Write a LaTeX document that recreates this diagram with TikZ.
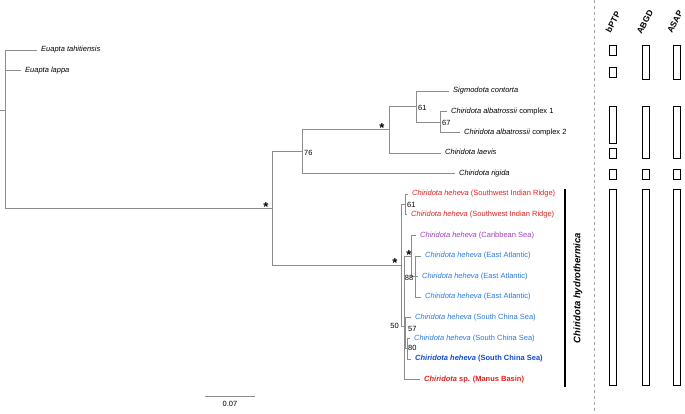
\documentclass[tikz,border=0pt]{standalone}
\usepackage{fontspec}
\setmainfont{Liberation Sans}
\usepackage{tikz}

\definecolor{branchgray}{RGB}{140,140,140}
\definecolor{swirred}{RGB}{230,30,30}
\definecolor{caribpurple}{RGB}{160,60,190}
\definecolor{heblue}{RGB}{40,120,230}
\definecolor{scsblue}{RGB}{15,75,205}
\newcommand{\taxon}[1]{\textit{#1}}

\tikzset{
    branch/.style={draw=branchgray, line width=0.9pt, to path={|- (\tikztotarget)}},
    leaf/.style={anchor=west, inner xsep=4pt, inner ysep=0pt, text height=5pt, text depth=1.5pt, font=\fontsize{7.5}{8}\selectfont},
    support/.style={inner sep=0pt, font=\fontsize{7.5}{8}\selectfont},
    star/.style={anchor=base, inner sep=0pt, font=\fontsize{13}{13}\selectfont\bfseries},
    spbox/.style={draw=black, line width=1pt},
    method/.style={rotate=62, inner sep=0pt, font=\fontsize{8.5}{9}\selectfont\bfseries},
}

\begin{document}
\begin{tikzpicture}[x=1pt, y=-1pt]
    \useasboundingbox (0,0) rectangle (685,413);

    % outgroup and root
    \coordinate (rootstub) at (0,110);
    \coordinate (root)     at (5,110);
    \node[leaf] (tahi)  at (37,50)   {\taxon{Euapta tahitiensis}};
    \node[leaf] (lappa) at (21,70.6) {\taxon{Euapta lappa}};

    % upper clade
    \coordinate (ingroup) at (272,208.4);
    \coordinate (n76)     at (302,151.7);
    \coordinate (nstar)   at (389,129.8);
    \coordinate (n61)     at (416,106.7);
    \coordinate (n67)     at (440,122.1);
    \node[leaf] (sigmo)  at (449,91.2)  {\taxon{Sigmodota contorta}};
    \node[leaf] (alba1)  at (447,111.8) {\taxon{Chiridota albatrossii} complex 1};
    \node[leaf] (alba2)  at (460,132.4) {\taxon{Chiridota albatrossii} complex 2};
    \node[leaf] (laevis) at (441,153)   {\taxon{Chiridota laevis}};
    \node[leaf] (rigida) at (455,173.6) {\taxon{Chiridota rigida}};

    % hydrothermica clade
    \coordinate (hydro) at (401,265);
    \coordinate (swir)  at (405,204.5);
    \coordinate (n50)   at (404,326);
    \coordinate (atl)   at (411,256);
    \coordinate (ea)    at (415,276.6);
    \coordinate (scs)   at (405.5,333.2);
    \coordinate (n80)   at (407,348.7);
    \node[leaf, text=swirred]     (swir1) at (408,194.2) {\taxon{Chiridota heheva} (Southwest Indian Ridge)};
    \node[leaf, text=swirred]     (swir2) at (407,214.8) {\taxon{Chiridota heheva} (Southwest Indian Ridge)};
    \node[leaf, text=caribpurple] (carib) at (416,235.4) {\taxon{Chiridota heheva} (Caribbean Sea)};
    \node[leaf, text=heblue]      (ea1)   at (421,256)   {\taxon{Chiridota heheva} (East Atlantic)};
    \node[leaf, text=heblue]      (ea2)   at (418,276.6) {\taxon{Chiridota heheva} (East Atlantic)};
    \node[leaf, text=heblue]      (ea3)   at (421,297.2) {\taxon{Chiridota heheva} (East Atlantic)};
    \node[leaf, text=heblue]      (scs1)  at (411,317.8) {\taxon{Chiridota heheva} (South China Sea)};
    \node[leaf, text=heblue]      (scs2)  at (410,338.4) {\taxon{Chiridota heheva} (South China Sea)};
    \node[leaf, text=scsblue, font=\fontsize{7.5}{8}\selectfont\bfseries] (scs3) at (411,359) {\taxon{Chiridota heheva} (South China Sea)};
    \node[leaf, text=swirred, font=\fontsize{7.5}{8}\selectfont\bfseries] (manus) at (420,379.6) {\taxon{Chiridota} sp. (Manus Basin)};

    \path
        (rootstub)
            edge [branch] (root)
        (root)
            edge [branch] (tahi)
            edge [branch] (lappa)
            edge [branch] (ingroup)
        (ingroup)
            edge [branch] (n76)
            edge [branch] (hydro)
        (n76)
            edge [branch] (nstar)
            edge [branch] (rigida)
        (nstar)
            edge [branch] (n61)
            edge [branch] (laevis)
        (n61)
            edge [branch] (sigmo)
            edge [branch] (n67)
        (n67)
            edge [branch] (alba1)
            edge [branch] (alba2)
        (hydro)
            edge [branch] (swir)
            edge [branch] (n50)
        (swir)
            edge [branch] (swir1)
            edge [branch] (swir2)
        (n50)
            edge [branch] (atl)
            edge [branch] (scs)
            edge [branch] (manus)
        (atl)
            edge [branch] (carib)
            edge [branch] (ea)
        (ea)
            edge [branch] (ea1)
            edge [branch] (ea2)
            edge [branch] (ea3)
        (scs)
            edge [branch] (scs1)
            edge [branch] (n80)
        (n80)
            edge [branch] (scs2)
            edge [branch] (scs3)
        ;

    % support values
    \node[support, anchor=west] (bs76)  at (304,152.5) {76};
    \node[support, anchor=west] (bs61)  at (418,107.5) {61};
    \node[support, anchor=west] (bs67)  at (442,122.5) {67};
    \node[support, anchor=west] (bs61b) at (407,205)   {61};
    \node[support]              (bs88)  at (409,278)   {88};
    \node[support, anchor=east] (bs50)  at (399,326)   {50};
    \node[support, anchor=west] (bs57)  at (408,329)   {57};
    \node[support, anchor=west] (bs80)  at (408,348)   {80};
    \node[star] (st1) at (266,211.5) {*};
    \node[star] (st2) at (382,132.5) {*};
    \node[star] (st3) at (395,267.5) {*};
    \node[star] (st4) at (409,259.5) {*};

    % scale bar
    \draw[branchgray, line width=1pt] (205,396) -- (255,396);
    \node[support] (scale) at (230,404) {0.07};

    % species bar
    \draw[line width=2pt] (565,189) -- (565,387);
    \node[rotate=90, font=\fontsize{9.5}{10}\selectfont\bfseries\itshape] (hydrolabel) at (578,288) {Chiridota hydrothermica};

    % delimitation columns
    \draw[gray!70, dashed, line width=0.8pt] (594,0) -- (594,413);
    \node[method] (bptp) at (613,22) {bPTP};
    \node[method] (abgd) at (645,22) {ABGD};
    \node[method] (asap) at (675,22) {ASAP};

    \draw[spbox] (609.5,45) rectangle (616.5,55);
    \draw[spbox] (609.5,67) rectangle (616.5,77);
    \draw[spbox] (609.5,106) rectangle (616.5,143);
    \draw[spbox] (609.5,148) rectangle (616.5,158);
    \draw[spbox] (609.5,169) rectangle (616.5,179);
    \draw[spbox] (609.5,189) rectangle (616.5,385);

    \draw[spbox] (642.5,45) rectangle (649.5,79);
    \draw[spbox] (642.5,106) rectangle (649.5,158);
    \draw[spbox] (642.5,169) rectangle (649.5,179);
    \draw[spbox] (642.5,189) rectangle (649.5,385);

    \draw[spbox] (673.5,45) rectangle (680.5,79);
    \draw[spbox] (673.5,106) rectangle (680.5,158);
    \draw[spbox] (673.5,169) rectangle (680.5,179);
    \draw[spbox] (673.5,189) rectangle (680.5,385);
\end{tikzpicture}
\end{document}
